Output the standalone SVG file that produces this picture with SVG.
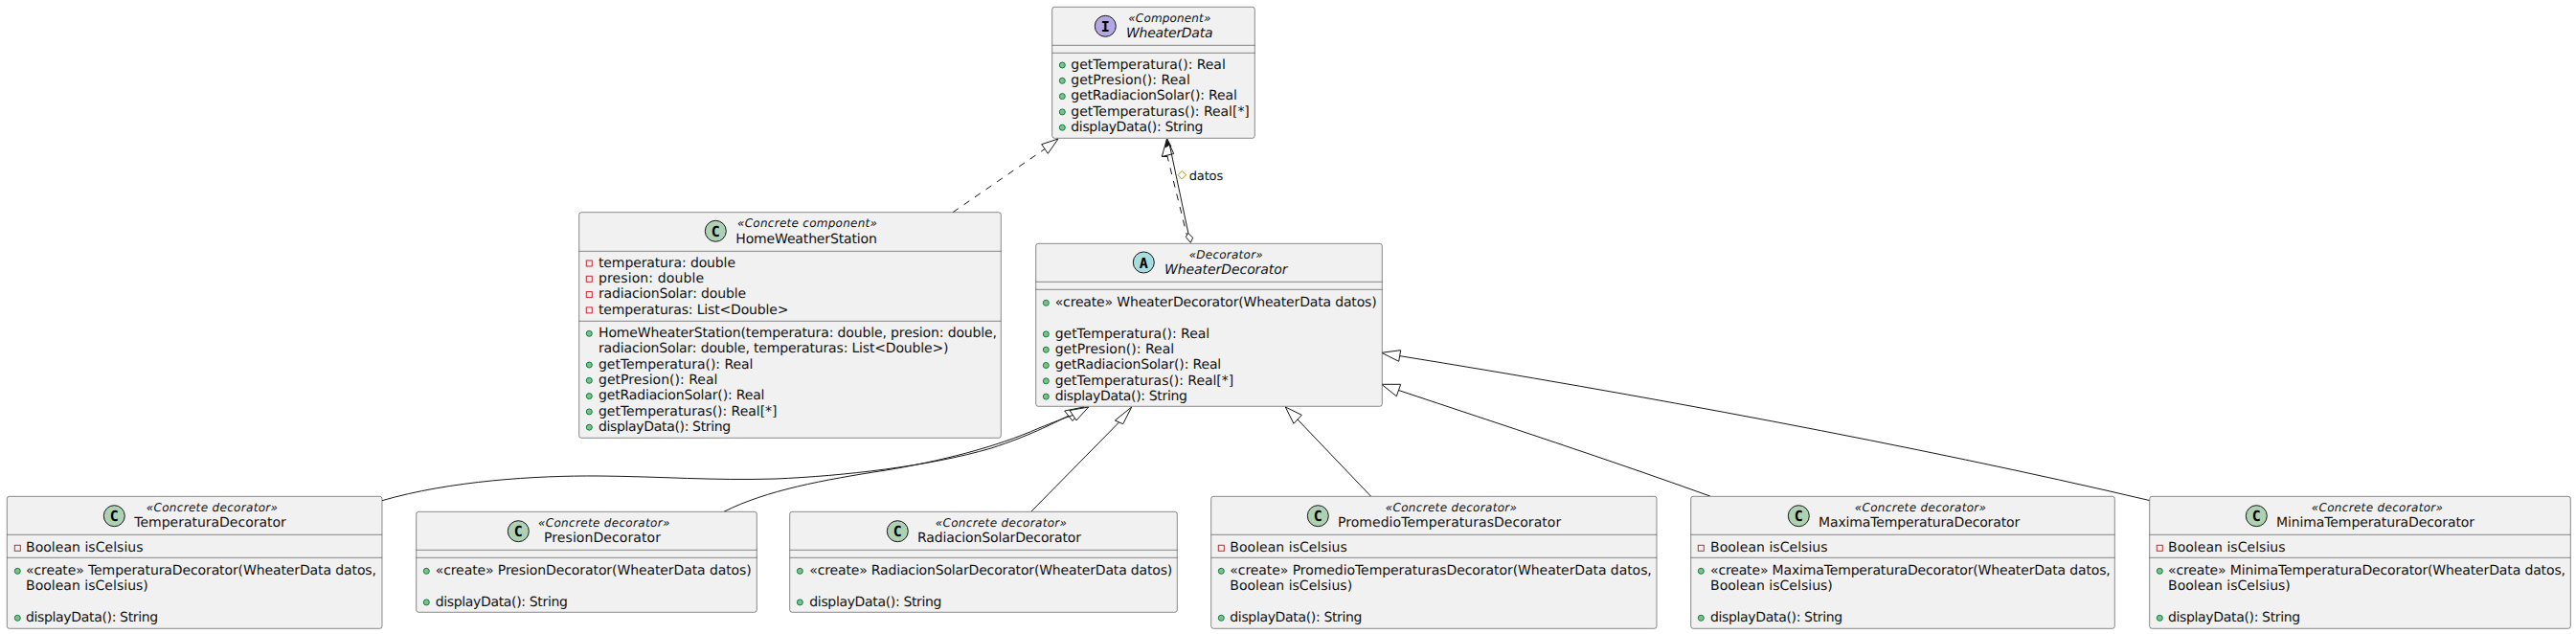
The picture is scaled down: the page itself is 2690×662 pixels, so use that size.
<svg xmlns="http://www.w3.org/2000/svg" width="2690" height="662" viewBox="0 0 2690 662">
<style>
text{font-family:"DejaVu Sans",sans-serif;font-size:14px;fill:#111;text-rendering:geometricPrecision}
.st{font-size:12px;font-style:italic}
.it{font-style:italic}
.lb{font-size:13px}
.sp{font-family:"DejaVu Sans Mono",monospace;font-weight:bold;font-size:15px;text-anchor:middle;fill:#000}
.box{fill:#F1F1F1;stroke:#181818;stroke-width:.5}
.sep{stroke:#181818;stroke-width:.5;fill:none}
.c{stroke:#181818;stroke-width:1}
.cC{fill:#ADD1B2}.cI{fill:#B4A7E5}.cA{fill:#A9DCDF}
.pub{fill:#84BE84;stroke:#038048;stroke-width:1}
.prv{fill:none;stroke:#C82930;stroke-width:1}
.e{fill:none;stroke:#181818;stroke-width:1}
.d{stroke-dasharray:7,7}
.h{fill:#fff;stroke:#181818;stroke-width:1}
.f{fill:#181818;stroke:#181818;stroke-width:1}
</style>
<g id="connectors">
<path class="e d" d="M995,221.7 L1091,155.5"/>
<polygon class="h" points="1105,145 1087.7,150.7 1094.3,160.3"/>
<path class="e d" d="M1240.5,250 L1218.7,162"/>
<polygon class="h" points="1218.5,145 1213.3,163.5 1225.7,160.5"/>
<path class="e" d="M1213.3,163.5 L1219,163.5" stroke-width="1.5"/>
<path class="e" d="M1241,244 L1221.5,152"/>
<polygon class="f" points="1218.7,145 1216.8,154 1220.8,151.5 1223,153"/>
<polygon class="h" points="1240.7,243.3 1238.3,247.5 1243.3,253.3 1245.7,248.3"/>
<polygon points="1234.3,178.4 1238.6,182.7 1234.3,187 1230,182.7" fill="none" stroke="#B38D22" stroke-width="1"/>
<text class="lb" x="1241.7" y="188.3" textLength="35.5">datos</text>
<path class="e" d="M399,522.7 C470,502 560,496.5 625,497 C690,497.5 745,502 810,500 C880,497 970,487 1035,468 C1075,455 1098,443 1116,434"/>
<polygon class="h" points="1131.7,425 1111.7,429 1120,439.5"/>
<path class="e" d="M756,534.3 C800,512 860,501 925,491 C980,482 1040,467 1085,447 C1100,441 1110,437 1120.5,433.5"/>
<polygon class="h" points="1136.7,425 1117,428.5 1124,439"/>
<path class="e" d="M1076.7,534.3 L1168.5,441"/>
<polygon class="h" points="1181.7,425 1164.3,439 1172.7,442.7"/>
<path class="e" d="M1431.7,518.3 L1355,438"/>
<polygon class="h" points="1342.3,425 1359.3,433.3 1351,442.3"/>
<path class="e" d="M1785.7,518 C1680,480 1570,444 1460.5,407.5"/>
<polygon class="h" points="1442.7,401.3 1462.7,401.3 1458.3,413.7"/>
<path class="e" d="M2244.5,522.5 C2000,465 1700,410 1462,371.7"/>
<polygon class="h" points="1442.7,368.3 1462.7,365.7 1460.7,377.3"/>
</g>
<g id="WheaterData">
<rect class="box" x="1098.7" y="7.3" width="211.6" height="137" rx="2.5"/>
<circle class="c cI" cx="1154.3" cy="27.3" r="11"/><text class="sp" x="1154.3" y="32.8">I</text>
<text class="st" x="1178.3" y="22.7" textLength="86">«Component»</text>
<text class="it" x="1176" y="38.7" textLength="90.5">WheaterData</text>
<path class="sep" d="M1098.7,47.3H1310.3M1098.7,55.3H1310.3"/>
<circle class="pub" cx="1109.3" cy="68" r="3"/><text x="1118.3" y="71.7" textLength="161.5">getTemperatura(): Real</text>
<circle class="pub" cx="1109.3" cy="84.3" r="3"/><text x="1118.3" y="88" textLength="124.5">getPresion(): Real</text>
<circle class="pub" cx="1109.3" cy="100.6" r="3"/><text x="1118.3" y="104.3" textLength="173.5">getRadiacionSolar(): Real</text>
<circle class="pub" cx="1109.3" cy="116.9" r="3"/><text x="1118.3" y="120.6" textLength="186.5">getTemperaturas(): Real[*]</text>
<circle class="pub" cx="1109.3" cy="133.2" r="3"/><text x="1118.3" y="136.9" textLength="138.2">displayData(): String</text>
</g>
<g id="HomeWeatherStation">
<rect class="box" x="604.7" y="221.7" width="440.6" height="235.6" rx="2.5"/>
<circle class="c cC" cx="747.3" cy="241.3" r="11"/><text class="sp" x="747.3" y="246.8">C</text>
<text class="st" x="770" y="237.3" textLength="146">«Concrete component»</text>
<text x="768.3" y="253.7" textLength="147.5">HomeWeatherStation</text>
<path class="sep" d="M604.7,262.3H1045.3M604.7,335.3H1045.3"/>
<rect class="prv" x="612.3" y="272" width="6" height="6"/><text x="625" y="278.7" textLength="143">temperatura: double</text>
<rect class="prv" x="612.3" y="288.3" width="6" height="6"/><text x="625" y="295" textLength="110">presion: double</text>
<rect class="prv" x="612.3" y="304.6" width="6" height="6"/><text x="625" y="311.3" textLength="154">radiacionSolar: double</text>
<rect class="prv" x="612.3" y="320.9" width="6" height="6"/><text x="625" y="327.6" textLength="198.5">temperaturas: List&lt;Double&gt;</text>
<circle class="pub" cx="615.3" cy="348.3" r="3"/><text x="625" y="351.7" textLength="416">HomeWheaterStation(temperatura: double, presion: double,</text>
<text x="625" y="368" textLength="365.5">radiacionSolar: double, temperaturas: List&lt;Double&gt;)</text>
<circle class="pub" cx="615.3" cy="381" r="3"/><text x="625" y="384.7" textLength="161.5">getTemperatura(): Real</text>
<circle class="pub" cx="615.3" cy="397.3" r="3"/><text x="625" y="401" textLength="124.5">getPresion(): Real</text>
<circle class="pub" cx="615.3" cy="413.6" r="3"/><text x="625" y="417.3" textLength="173.5">getRadiacionSolar(): Real</text>
<circle class="pub" cx="615.3" cy="429.9" r="3"/><text x="625" y="433.6" textLength="186.5">getTemperaturas(): Real[*]</text>
<circle class="pub" cx="615.3" cy="446.2" r="3"/><text x="625" y="449.9" textLength="138.2">displayData(): String</text>
</g>
<g id="WheaterDecorator">
<rect class="box" x="1081.7" y="254.3" width="361.6" height="170" rx="2.5"/>
<circle class="c cA" cx="1194.3" cy="274" r="11"/><text class="sp" x="1194.3" y="279.5">A</text>
<text class="st" x="1241.7" y="270" textLength="77">«Decorator»</text>
<text class="it" x="1216" y="286.3" textLength="128.5">WheaterDecorator</text>
<path class="sep" d="M1081.7,294.3H1443.3M1081.7,302.3H1443.3"/>
<circle class="pub" cx="1092.3" cy="316.3" r="3"/><text x="1101.7" y="320" textLength="336">«create» WheaterDecorator(WheaterData datos)</text>
<circle class="pub" cx="1092.3" cy="348.9" r="3"/><text x="1101.7" y="352.6" textLength="161.5">getTemperatura(): Real</text>
<circle class="pub" cx="1092.3" cy="365.2" r="3"/><text x="1101.7" y="368.9" textLength="124.5">getPresion(): Real</text>
<circle class="pub" cx="1092.3" cy="381.5" r="3"/><text x="1101.7" y="385.2" textLength="173.5">getRadiacionSolar(): Real</text>
<circle class="pub" cx="1092.3" cy="397.8" r="3"/><text x="1101.7" y="401.5" textLength="186.5">getTemperaturas(): Real[*]</text>
<circle class="pub" cx="1092.3" cy="414.1" r="3"/><text x="1101.7" y="417.8" textLength="138.2">displayData(): String</text>
</g>
<g id="TemperaturaDecorator">
<rect class="box" x="7.3" y="518.3" width="391.7" height="138" rx="2.5"/>
<circle class="c cC" cx="119.3" cy="538.7" r="11"/><text class="sp" x="119.3" y="544.2">C</text>
<text class="st" x="152.7" y="533.7" textLength="137.3">«Concrete decorator»</text>
<text x="140.3" y="550" textLength="158.5">TemperaturaDecorator</text>
<path class="sep" d="M7.3,558.3H399M7.3,582.3H399"/>
<rect class="prv" x="15.3" y="569.3" width="6" height="6"/><text x="27" y="576" textLength="122.5">Boolean isCelsius</text>
<circle class="pub" cx="18.3" cy="596.3" r="3"/><text x="27" y="600" textLength="366">«create» TemperaturaDecorator(WheaterData datos,</text>
<text x="27" y="616.3" textLength="127.8">Boolean isCelsius)</text>
<circle class="pub" cx="18.3" cy="645.3" r="3"/><text x="27" y="649" textLength="138.2">displayData(): String</text>
</g>
<g id="PresionDecorator">
<rect class="box" x="434.7" y="534.3" width="355.6" height="105" rx="2.5"/>
<circle class="c cC" cx="541.3" cy="554.7" r="11"/><text class="sp" x="541.3" y="560.2">C</text>
<text class="st" x="562" y="549.7" textLength="137.3">«Concrete decorator»</text>
<text x="568" y="566" textLength="122">PresionDecorator</text>
<path class="sep" d="M434.7,574.3H790.3M434.7,582.3H790.3"/>
<circle class="pub" cx="445.3" cy="596.3" r="3"/><text x="454.7" y="600" textLength="330">«create» PresionDecorator(WheaterData datos)</text>
<circle class="pub" cx="445.3" cy="628.9" r="3"/><text x="454.7" y="632.6" textLength="138.2">displayData(): String</text>
</g>
<g id="RadiacionSolarDecorator">
<rect class="box" x="824.7" y="534.3" width="404.6" height="105" rx="2.5"/>
<circle class="c cC" cx="937.3" cy="554.7" r="11"/><text class="sp" x="937.3" y="560.2">C</text>
<text class="st" x="976.7" y="549.7" textLength="137.3">«Concrete decorator»</text>
<text x="958" y="566" textLength="171">RadiacionSolarDecorator</text>
<path class="sep" d="M824.7,574.3H1229.3M824.7,582.3H1229.3"/>
<circle class="pub" cx="835.3" cy="596.3" r="3"/><text x="845.3" y="600" textLength="379">«create» RadiacionSolarDecorator(WheaterData datos)</text>
<circle class="pub" cx="835.3" cy="628.9" r="3"/><text x="845.3" y="632.6" textLength="138.2">displayData(): String</text>
</g>
<g id="PromedioTemperaturasDecorator">
<rect class="box" x="1264.7" y="518.3" width="465.3" height="138" rx="2.5"/>
<circle class="c cC" cx="1376.3" cy="538.7" r="11"/><text class="sp" x="1376.3" y="544.2">C</text>
<text class="st" x="1446.7" y="533.7" textLength="137.3">«Concrete decorator»</text>
<text x="1397" y="550" textLength="233.2">PromedioTemperaturasDecorator</text>
<path class="sep" d="M1264.7,558.3H1730M1264.7,582.3H1730"/>
<rect class="prv" x="1272.3" y="569.3" width="6" height="6"/><text x="1284.3" y="576" textLength="122.5">Boolean isCelsius</text>
<circle class="pub" cx="1275.3" cy="596.3" r="3"/><text x="1284.3" y="600" textLength="440.5">«create» PromedioTemperaturasDecorator(WheaterData datos,</text>
<text x="1284.3" y="616.3" textLength="127.8">Boolean isCelsius)</text>
<circle class="pub" cx="1275.3" cy="645.3" r="3"/><text x="1284.3" y="649" textLength="138.2">displayData(): String</text>
</g>
<g id="MaximaTemperaturaDecorator">
<rect class="box" x="1765.7" y="518.3" width="442.6" height="138" rx="2.5"/>
<circle class="c cC" cx="1878.3" cy="538.7" r="11"/><text class="sp" x="1878.3" y="544.2">C</text>
<text class="st" x="1936.7" y="533.7" textLength="137.3">«Concrete decorator»</text>
<text x="1899" y="550" textLength="210.2">MaximaTemperaturaDecorator</text>
<path class="sep" d="M1765.7,558.3H2208.3M1765.7,582.3H2208.3"/>
<rect class="prv" x="1773.3" y="569.3" width="6" height="6"/><text x="1786" y="576" textLength="122.5">Boolean isCelsius</text>
<circle class="pub" cx="1776.3" cy="596.3" r="3"/><text x="1786" y="600" textLength="417.8">«create» MaximaTemperaturaDecorator(WheaterData datos,</text>
<text x="1786" y="616.3" textLength="127.8">Boolean isCelsius)</text>
<circle class="pub" cx="1776.3" cy="645.3" r="3"/><text x="1786" y="649" textLength="138.2">displayData(): String</text>
</g>
<g id="MinimaTemperaturaDecorator">
<rect class="box" x="2244.7" y="518.3" width="439.6" height="138" rx="2.5"/>
<circle class="c cC" cx="2356.3" cy="538.7" r="11"/><text class="sp" x="2356.3" y="544.2">C</text>
<text class="st" x="2413.7" y="533.7" textLength="137.3">«Concrete decorator»</text>
<text x="2377" y="550" textLength="207">MinimaTemperaturaDecorator</text>
<path class="sep" d="M2244.7,558.3H2684.3M2244.7,582.3H2684.3"/>
<rect class="prv" x="2252.3" y="569.3" width="6" height="6"/><text x="2264" y="576" textLength="122.5">Boolean isCelsius</text>
<circle class="pub" cx="2255.3" cy="596.3" r="3"/><text x="2264" y="600" textLength="415">«create» MinimaTemperaturaDecorator(WheaterData datos,</text>
<text x="2264" y="616.3" textLength="127.8">Boolean isCelsius)</text>
<circle class="pub" cx="2255.3" cy="645.3" r="3"/><text x="2264" y="649" textLength="138.2">displayData(): String</text>
</g>
</svg>
